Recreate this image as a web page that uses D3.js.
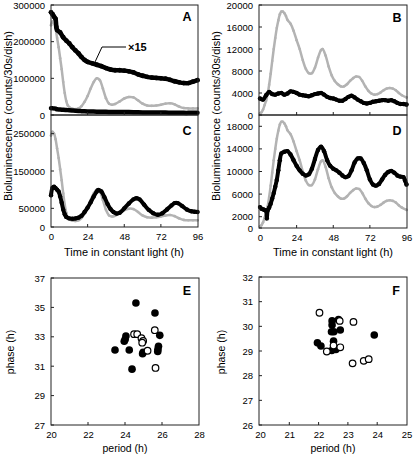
<!DOCTYPE html>
<html><head><meta charset="utf-8">
<script src="https://cdn.jsdelivr.net/npm/d3@7"></script>
<style>
body{margin:0;background:#fff;}
svg text{font-family:"Liberation Sans",Arial,sans-serif;fill:#000;}
.tick text{font-family:"Liberation Sans Narrow","Arial Narrow","Liberation Sans",sans-serif;font-size:9.5px;}
</style></head>
<body><svg id="c" width="415" height="456"></svg>
<script>
// ---------- DATA ----------
const hourTicks = [0, 24, 48, 72, 96];
const yTicksA = [0, 100000, 200000, 300000];
const yTicksC = [0, 50000, 150000, 250000];
const yTicksB = [0, 4000, 8000, 12000, 16000, 20000];
const yTicksD = [0, 2000, 6000, 10000, 14000, 18000];
const periodTicksE = [20, 22, 24, 26, 28];
const phaseTicksE = [27, 29, 31, 33, 35, 37];
const periodTicksF = [20, 21, 22, 23, 24, 25];
const phaseTicksF = [26, 27, 28, 29, 30, 31, 32];

// gray series shared by panels A and C  [hour, counts]
const grayAC = [[0,245000],[1,255000],[2,250000],[3,235000],[4,210000],[5,185000],[6,155000],[7,125000],[8,90000],[9,60000],[10,38000],[11,26000],[12,21000],[14,17000],[16,16000],[18,18000],[20,24000],[22,36000],[24,52000],[26,72000],[28,90000],[30,100000],[32,95000],[34,72000],[36,46000],[38,31000],[40,28000],[42,30000],[45,37000],[48,45000],[51,49000],[54,48000],[57,40000],[60,31000],[63,26000],[66,25000],[69,26000],[72,28000],[75,31000],[78,32000],[81,29000],[84,23000],[87,19000],[90,18000],[93,18000],[96,18000]];
// black series of panel A, drawn x15 (values as read at the x15 scale)
const blackAx15 = [[0,280000],[1,275000],[2,268000],[3,262000],[3.5,240000],[4,232000],[6,225000],[8,212000],[10,203000],[12,195000],[14,185000],[16,176000],[18,168000],[20,158000],[22,150000],[24,145000],[27,141000],[30,137000],[33,133000],[36,128000],[39,124000],[42,122000],[45,122000],[48,121000],[51,119000],[54,116000],[57,111000],[60,107000],[63,104000],[66,102000],[69,101000],[72,100000],[75,99000],[78,96000],[81,92000],[84,89000],[87,87000],[90,87000],[93,91000],[96,95000]];
const scaleFactorA = 15;
// black series panel C
const blackC = [[0,85000],[1,105000],[2,108000],[3,104000],[4,100000],[5,95000],[6,82000],[7,65000],[8,47000],[9,34000],[10,27000],[12,23000],[14,22000],[16,23000],[18,25000],[20,30000],[22,40000],[24,52000],[26,66000],[28,82000],[30,95000],[31,99000],[33,95000],[35,80000],[37,62000],[39,48000],[41,40000],[43,36000],[45,38000],[48,50000],[51,63000],[54,74000],[56,77000],[58,74000],[61,60000],[64,46000],[67,37000],[70,33000],[73,37000],[76,47000],[79,58000],[81,64000],[83,64000],[86,56000],[89,47000],[92,42000],[94,41000],[96,40000]];
// gray series shared by panels B and D
const grayBD = [[0,300],[1,500],[2,1000],[3,1800],[4,2600],[5,3800],[6,5500],[7,7500],[8,9800],[9,12000],[10,14000],[11,15800],[12,17200],[13,18300],[14,18800],[15,18800],[16,18500],[17,18000],[18,17300],[20,16600],[22,15300],[24,13600],[26,12000],[28,10000],[30,8400],[32,7600],[34,7600],[36,8600],[38,10400],[40,11800],[41,12000],[43,10800],[45,8800],[47,7200],[49,6200],[51,5600],[53,5200],[55,5200],[57,5600],[59,6200],[61,6700],[63,7000],[65,6900],[67,6200],[69,5200],[71,4400],[73,3900],[75,3700],[77,3800],[79,4100],[81,4500],[83,4800],[85,4900],[87,4800],[89,4500],[91,4000],[93,3600],[96,3200]];
// black series panel B
const blackB = [[0,3000],[2,2800],[4,3600],[6,4200],[8,3800],[10,3700],[12,3900],[14,4000],[16,3700],[18,3900],[20,4300],[22,4200],[24,4000],[26,3700],[28,3600],[30,3500],[32,3400],[34,3600],[36,3800],[38,3900],[40,4000],[42,3700],[44,3300],[46,3100],[48,3000],[50,2800],[52,2600],[54,2600],[56,2900],[58,3300],[60,3500],[62,3200],[64,2800],[66,2500],[68,2200],[70,2100],[72,2200],[74,2400],[76,2500],[78,2600],[80,2700],[82,2700],[84,2600],[86,2700],[88,2500],[90,2200],[92,2000],[94,2000],[96,1900]];
// black series panel D
const blackD = [[0,3700],[1,3400],[2,3300],[3,3200],[4,3000],[4.5,1700],[5,3100],[6,3600],[7,4300],[8,5200],[9,6200],[10,7300],[11,8500],[12,10200],[13,12000],[14,13200],[16,13500],[18,13600],[20,13000],[22,12000],[24,11000],[26,10200],[28,9600],[30,9300],[32,9500],[34,10500],[36,12200],[38,13800],[40,14400],[42,13600],[44,12000],[46,11000],[48,10500],[50,10200],[52,9800],[54,9300],[56,9000],[58,9200],[60,10200],[62,11600],[64,12300],[66,12300],[68,11500],[70,10200],[72,8600],[74,7700],[76,7500],[78,7800],[80,8600],[82,9400],[84,9900],[86,10100],[88,9800],[90,9300],[92,9100],[94,9000],[95,8400],[96,7700]];

// scatter E: [period, phase]
const eFilled = [[24.59,35.3],[25.62,34.62],[25.88,33.1],[24.05,33.05],[24.01,32.83],[23.96,32.7],[23.46,32.1],[24.23,32.1],[24.95,31.85],[24.98,31.95],[25.81,32.35],[25.78,32.15],[25.77,32.0],[24.38,30.8]];
const eOpen = [[24.49,33.18],[24.66,33.18],[24.89,32.9],[24.98,32.72],[24.93,32.6],[25.22,32.05],[25.61,33.45],[25.65,30.88]];
// scatter F
const fFilled = [[22.46,30.22],[22.46,30.05],[22.44,29.78],[22.52,29.78],[22.68,30.28],[22.74,29.85],[23.9,29.65],[21.96,29.33],[22.08,29.2],[22.51,29.4],[22.45,29.02],[22.59,29.06]];
const fOpen = [[22.03,30.55],[22.72,30.22],[23.19,30.18],[22.51,29.22],[22.28,28.98],[22.74,29.15],[23.16,28.5],[23.54,28.6],[23.71,28.67]];

// ---------- DRAW ----------
const svg = d3.select("#c");
const GRAY = "#b3b3b3";

function frame(x0, x1, y0, y1) {
  svg.append("rect").attr("x", x0).attr("y", y0).attr("width", x1 - x0).attr("height", y1 - y0)
    .attr("fill", "none").attr("stroke", "#222").attr("stroke-width", 1);
}
function yAxis(scale, ticks, x0) {
  const g = svg.append("g").attr("transform", `translate(${x0},0)`)
    .call(d3.axisLeft(scale).tickValues(ticks).tickSize(0).tickPadding(6).tickFormat(d3.format("d")));
  g.select(".domain").remove();
  svg.append("g").selectAll("line").data(ticks).join("line")
    .attr("x1", x0).attr("x2", x0 + 3).attr("y1", d => scale(d)).attr("y2", d => scale(d))
    .attr("stroke", "#222");
}
function xAxis(scale, ticks, y0, labels) {
  svg.append("g").selectAll("line").data(ticks.slice(1, -1)).join("line")
    .attr("y1", y0).attr("y2", y0 - 3).attr("x1", d => scale(d)).attr("x2", d => scale(d))
    .attr("stroke", "#222");
  if (labels) {
    const g = svg.append("g").attr("transform", `translate(0,${y0})`)
      .call(d3.axisBottom(scale).tickValues(ticks).tickSize(0).tickPadding(6).tickFormat(d3.format("d")));
    g.select(".domain").remove();
  }
}
function series(x, y, data, color, width, r) {
  const line = d3.line().x(d => x(d[0])).y(d => y(d[1])).curve(d3.curveCatmullRom);
  svg.append("path").datum(data).attr("d", line).attr("fill", "none")
    .attr("stroke", color).attr("stroke-width", width).attr("stroke-linejoin", "round").attr("stroke-linecap", "round");
  if (r) svg.append("g").selectAll("circle").data(data).join("circle")
    .attr("cx", d => x(d[0])).attr("cy", d => y(d[1])).attr("r", r).attr("fill", color);
}
function letter(t, x, y) {
  svg.append("text").attr("x", x).attr("y", y).attr("text-anchor", "middle")
    .attr("font-size", 12.5).attr("font-weight", "bold").text(t);
}

const xL = d3.scaleLinear().domain([0, 96]).range([51, 197.5]);
const xR = d3.scaleLinear().domain([0, 96]).range([260, 406.5]);
const yA = d3.scaleLinear().domain([0, 300000]).range([115, 5]);
const yC = d3.scaleLinear().domain([0, 300000]).range([227, 115]);
const yB = d3.scaleLinear().domain([0, 20000]).range([115, 5]);
const yD = d3.scaleLinear().domain([0, 20000]).range([228, 115]);

// Panel A
series(xL, yA, grayAC, GRAY, 2.5, 1.3);
series(xL, yA, blackAx15, "#000", 4.5, 2.4);
series(xL, yA, blackAx15.map(d => [d[0], d[1] / scaleFactorA]), "#000", 4.5, 0);
frame(51, 198, 5, 115);
yAxis(yA, yTicksA, 51);
xAxis(xL, hourTicks, 115, false);
letter("A", 187, 21);
svg.append("polyline").attr("points", "95,62 102,47 126,47").attr("fill", "none").attr("stroke", "#000").attr("stroke-width", 1);
svg.append("text").attr("x", 128).attr("y", 51).attr("font-size", 11).attr("font-weight", "bold").text("×15");

// Panel C
series(xL, yC, grayAC, GRAY, 2.5, 1.3);
series(xL, yC, blackC, "#000", 4, 2.2);
frame(51, 198, 115, 227);
yAxis(yC, yTicksC, 51);
xAxis(xL, hourTicks, 227, true);
letter("C", 187, 135);

// Panel B
series(xR, yB, grayBD, GRAY, 2.5, 1.3);
series(xR, yB, blackB, "#000", 4, 2.2);
frame(259, 407, 5, 115);
yAxis(yB, yTicksB, 259);
xAxis(xR, hourTicks, 115, false);
letter("B", 397, 22);

// Panel D
series(xR, yD, grayBD, GRAY, 2.5, 1.3);
series(xR, yD, blackD, "#000", 4, 2.2);
frame(259, 407, 115, 228);
yAxis(yD, yTicksD, 259);
xAxis(xR, hourTicks, 228, true);
letter("D", 397, 135);

svg.append("text").attr("transform", "translate(12,116) rotate(-90)").attr("text-anchor", "middle")
  .attr("font-size", 11).text("Bioluminescence (counts/30s/dish)");
svg.append("text").attr("transform", "translate(220,116) rotate(-90)").attr("text-anchor", "middle")
  .attr("font-size", 11).text("Bioluminescence (counts/30s/dish)");
svg.append("text").attr("x", 124).attr("y", 256).attr("text-anchor", "middle").attr("font-size", 11).text("Time in constant light (h)");
svg.append("text").attr("x", 333).attr("y", 256).attr("text-anchor", "middle").attr("font-size", 11).text("Time in constant light (h)");

// Scatter E
const xE = d3.scaleLinear().domain([20, 28]).range([51, 199]);
const yE = d3.scaleLinear().domain([27, 37]).range([425, 278]);
frame(51, 199, 278, 425);
yAxis(yE, phaseTicksE, 51);
xAxis(xE, periodTicksE, 425, true);
svg.append("g").selectAll("circle").data(eFilled).join("circle")
  .attr("cx", d => xE(d[0])).attr("cy", d => yE(d[1])).attr("r", 3.8).attr("fill", "#000");
svg.append("g").selectAll("circle").data(eOpen).join("circle")
  .attr("cx", d => xE(d[0])).attr("cy", d => yE(d[1])).attr("r", 3.3).attr("fill", "#fff").attr("stroke", "#000").attr("stroke-width", 1.2);
letter("E", 187, 295);
svg.append("text").attr("x", 125).attr("y", 452).attr("text-anchor", "middle").attr("font-size", 10.5).text("period (h)");
svg.append("text").attr("transform", "translate(14,352) rotate(-90)").attr("text-anchor", "middle").attr("font-size", 10.5).text("phase (h)");

// Scatter F
const xF = d3.scaleLinear().domain([20, 25]).range([260, 406.5]);
const yF = d3.scaleLinear().domain([26, 32]).range([425, 277]);
frame(259, 407, 277, 425);
yAxis(yF, phaseTicksF, 259);
xAxis(xF, periodTicksF, 425, true);
svg.append("g").selectAll("circle").data(fFilled).join("circle")
  .attr("cx", d => xF(d[0])).attr("cy", d => yF(d[1])).attr("r", 3.8).attr("fill", "#000");
svg.append("g").selectAll("circle").data(fOpen).join("circle")
  .attr("cx", d => xF(d[0])).attr("cy", d => yF(d[1])).attr("r", 3.3).attr("fill", "#fff").attr("stroke", "#000").attr("stroke-width", 1.2);
letter("F", 396, 295);
svg.append("text").attr("x", 333).attr("y", 452).attr("text-anchor", "middle").attr("font-size", 10.5).text("period (h)");
svg.append("text").attr("transform", "translate(225,352) rotate(-90)").attr("text-anchor", "middle").attr("font-size", 10.5).text("phase (h)");
</script></body></html>
